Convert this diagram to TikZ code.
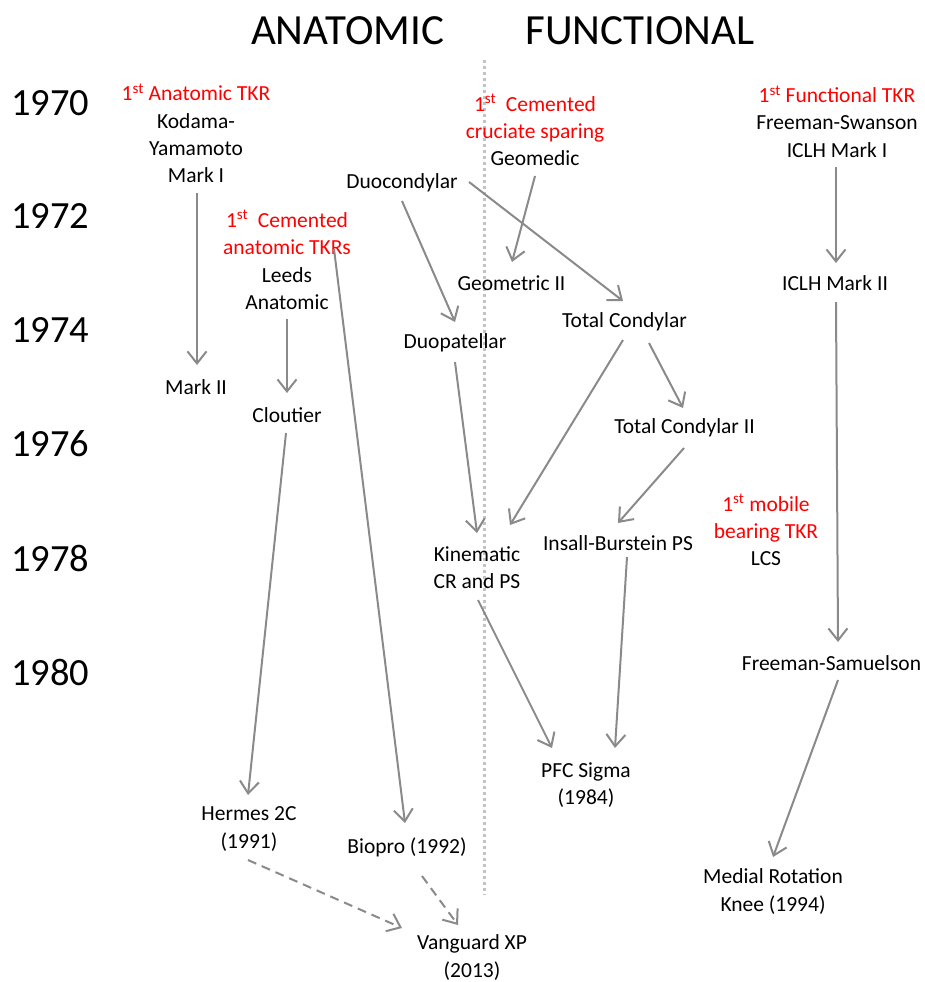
\documentclass[tikz,border=0pt]{standalone}
\usepackage{fontspec}
\setmainfont{Carlito}
\usetikzlibrary{arrows.meta,calc}
\definecolor{arrgray}{RGB}{138,138,138}
\definecolor{dotgray}{RGB}{195,195,195}
\begin{document}
\begin{tikzpicture}[x=1pt,y=-1pt,
  every node/.style={inner sep=0pt,outer sep=0pt,align=center,
    font=\fontsize{21.5}{27.3}\selectfont},
  yearlbl/.style={anchor=west,font=\fontsize{38.5}{40}\selectfont},
  headlbl/.style={font=\fontsize{43}{45}\selectfont},
  arr/.style={draw=arrgray,line width=2pt,-{Straight Barb[length=12pt,width=19pt]}},
  darr/.style={arr,dash pattern=on 9pt off 6pt},
  divline/.style={draw=dotgray,line width=3pt,dash pattern=on 3pt off 3pt}
]
\path[use as bounding box] (0,0) rectangle (924,982);

% headers
\node[headlbl] (hAna) at (347.5,31) {ANATOMIC};
\node[headlbl] (hFun) at (640,31) {FUNCTIONAL};

% years
\node[yearlbl] (y70) at (11,103) {1970};
\node[yearlbl] (y72) at (11,216) {1972};
\node[yearlbl] (y74) at (11,330) {1974};
\node[yearlbl] (y76) at (11,444) {1976};
\node[yearlbl] (y78) at (11,558) {1978};
\node[yearlbl] (y80) at (11,672) {1980};

% divider
\coordinate (dtop) at (484,60);
\coordinate (dbot) at (484,895);
\draw[divline] (dtop) -- (dbot);

% nodes
\node (kodama) at (196,133.5) {{\color{red}1\textsuperscript{st} Anatomic TKR}\\Kodama-\\Yamamoto\\Mark I};
\node (markII) at (196,387) {Mark II};
\node (leeds) at (287,260) {{\color{red}1\textsuperscript{st}\ \ Cemented}\\{\color{red}anatomic TKRs}\\Leeds\\Anatomic};
\node (cloutier) at (287,415) {Cloutier};
\node (hermes) at (249,829) {Hermes 2C\\(1991)};
\node (biopro) at (407,847) {Biopro (1992)};
\node (vanguard) at (472,957.5) {Vanguard XP\\(2013)};
\node (duocond) at (402,183) {Duocondylar};
\node (duopat) at (455,343) {Duopatellar};
\node (kinem) at (477,567.5) {Kinematic\\CR and PS};
\node (geomedic) at (535,130) {{\color{red}1\textsuperscript{st}\ \ Cemented}\\{\color{red}cruciate sparing}\\Geomedic};
\node (geoII) at (511.5,283) {Geometric II};
\node (tc) at (624.5,322) {Total Condylar};
\node (tcII) at (684.5,428) {Total Condylar II};
\node (insall) at (618,543) {Insall-Burstein PS};
\node (pfc) at (586,785) {PFC Sigma\\(1984)};
\node (func) at (837,121.5) {{\color{red}1\textsuperscript{st} Functional TKR}\\Freeman-Swanson\\ICLH Mark I};
\node (iclhII) at (835,283) {ICLH Mark II};
\node (lcs) at (766,530) {{\color{red}1\textsuperscript{st} mobile}\\{\color{red}bearing TKR}\\LCS};
\node (fsam) at (831.5,663) {Freeman-Samuelson};
\node (mrk) at (773,891.5) {Medial Rotation\\Knee (1994)};

% connectors
\draw[arr] ($(kodama)+(1,59.5)$) -- ($(markII)+(1,-22)$);
\draw[arr] ($(leeds)+(0,59)$) -- ($(cloutier)+(0,-22)$);
\draw[arr] ($(cloutier)+(-1,18)$) -- ($(hermes)+(-1,-34)$);
\draw[arr] ($(leeds)+(47,-11)$) -- ($(biopro)+(-2,-24)$);
\draw[arr] ($(duocond)+(0,18)$) -- ($(duopat)+(0,-21)$);
\draw[arr] ($(duocond)+(67,-1)$) -- ($(tc)+(-1.5,-21)$);
\draw[arr] ($(geomedic)+(0,46)$) -- ($(geoII)+(0.5,-21)$);
\draw[arr] ($(duopat)+(0,19)$) -- ($(kinem)+(0,-34.5)$);
\draw[arr] ($(tc)+(-1.5,18)$) -- ($(kinem)+(33,-42.5)$);
\draw[arr] ($(tc)+(24.5,21)$) -- ($(tcII)+(-1.5,-20)$);
\draw[arr] ($(tcII)+(-0.5,20)$) -- ($(insall)+(0,-20)$);
\draw[arr] ($(kinem)+(1,32.5)$) -- ($(pfc)+(-34,-37)$);
\draw[arr] ($(insall)+(9,14)$) -- ($(pfc)+(29,-37)$);
\draw[arr] ($(func)+(-1,45.5)$) -- ($(iclhII)+(1,-20)$);
\draw[arr] ($(iclhII)+(1,19)$) -- ($(fsam)+(6.5,-21)$);
\draw[arr] ($(fsam)+(6.5,17)$) -- ($(mrk)+(0,-34.5)$);
\draw[darr] ($(hermes)+(-1,31)$) -- ($(vanguard)+(-70,-29.5)$);
\draw[darr] ($(biopro)+(15,29)$) -- ($(vanguard)+(-14,-32.5)$);
\end{tikzpicture}
\end{document}
